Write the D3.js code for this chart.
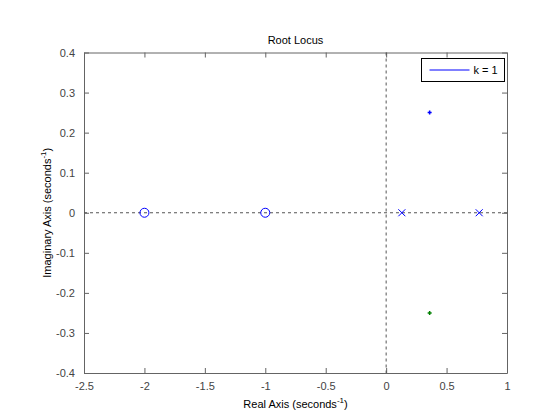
<!DOCTYPE html>
<html>
<head>
<meta charset="utf-8">
<script src="https://cdn.jsdelivr.net/npm/d3@7"></script>
<style>
  body { margin: 0; background: #fff; }
  svg text { font-family: "Liberation Sans", Arial, sans-serif; }
</style>
</head>
<body>
<div id="chart"></div>
<script>
'use strict';

// values
const xTicks = [-2.5, -2, -1.5, -1, -0.5, 0, 0.5, 1];
const yTicks = [-0.4, -0.3, -0.2, -0.1, 0, 0.1, 0.2, 0.3, 0.4];
const zerosRe = [-2, -1];
const polesRe = [0.13, 0.77];
const locusRe = [0.36, 0.36];
const locusIm = [0.25, -0.25];
const locusColors = ["#0000ff", "#008000"];

const W = 560, H = 420;
const margin = {top: 52.5, right: 53, bottom: 47, left: 84};
const width = W - margin.left - margin.right,
      height = H - margin.top - margin.bottom;

const svg = d3.select("#chart").append("svg")
    .attr("width", W)
    .attr("height", H);

const g = svg.append("g")
    .attr("transform", "translate(" + margin.left + "," + margin.top + ")");

const x = d3.scaleLinear().domain([-2.5, 1]).range([0, width]);
const y = d3.scaleLinear().domain([-0.4, 0.4]).range([height, 0]);

const axisColor = "#646464";
const fmt = d => String(d);

// axes with inward ticks, box style
function styleAxis(sel) {
  sel.select(".domain").attr("stroke", axisColor);
  sel.selectAll(".tick line").attr("stroke", axisColor);
  sel.selectAll(".tick text").attr("fill", "#444").style("font-size", "11px");
}

g.append("g")
  .attr("transform", "translate(0," + height + ")")
  .call(d3.axisBottom(x).tickValues(xTicks).tickFormat(fmt).tickSizeInner(-5).tickSizeOuter(0).tickPadding(9))
  .call(styleAxis);

g.append("g")
  .call(d3.axisTop(x).tickValues(xTicks).tickFormat("").tickSizeInner(-5).tickSizeOuter(0))
  .call(styleAxis);

g.append("g")
  .call(d3.axisLeft(y).tickValues(yTicks).tickFormat(fmt).tickSizeInner(-5).tickSizeOuter(0).tickPadding(9))
  .call(styleAxis);

g.append("g")
  .attr("transform", "translate(" + width + ",0)")
  .call(d3.axisRight(y).tickValues(yTicks).tickFormat("").tickSizeInner(-5).tickSizeOuter(0))
  .call(styleAxis);

// dashed zero lines
g.append("line")
  .attr("x1", 0).attr("x2", width)
  .attr("y1", y(0)).attr("y2", y(0))
  .attr("stroke", "#555").attr("stroke-dasharray", "3,3");
g.append("line")
  .attr("x1", x(0)).attr("x2", x(0))
  .attr("y1", 0).attr("y2", height)
  .attr("stroke", "#555").attr("stroke-dasharray", "3,3");

// zeros
g.selectAll(".zero")
  .data(zerosRe)
  .enter().append("circle")
  .attr("class", "zero")
  .attr("cx", d => x(d))
  .attr("cy", y(0))
  .attr("r", 4.5)
  .attr("fill", "none")
  .attr("stroke", "#0000ff")
  .attr("stroke-width", 1);

// poles
g.selectAll(".pole")
  .data(polesRe)
  .enter().append("path")
  .attr("class", "pole")
  .attr("d", d => {
    const cx = x(d), cy = y(0), s = 3.5;
    return "M" + (cx - s) + "," + (cy - s) + "L" + (cx + s) + "," + (cy + s) +
           "M" + (cx - s) + "," + (cy + s) + "L" + (cx + s) + "," + (cy - s);
  })
  .attr("stroke", "#0000ff")
  .attr("stroke-width", 1);

// closed loop points at k = 1
g.selectAll(".locus")
  .data(locusRe)
  .enter().append("path")
  .attr("class", "locus")
  .attr("d", (d, i) => {
    const cx = x(d), cy = y(locusIm[i]), s = 2;
    return "M" + (cx - s) + "," + cy + "L" + (cx + s) + "," + cy +
           "M" + cx + "," + (cy - s) + "L" + cx + "," + (cy + s);
  })
  .attr("stroke", (d, i) => locusColors[i])
  .attr("stroke-width", 1.5);

// title and labels
svg.append("text")
  .attr("x", margin.left + width / 2)
  .attr("y", 44)
  .attr("text-anchor", "middle")
  .style("font-size", "11px")
  .text("Root Locus");

const xl = svg.append("text")
  .attr("x", margin.left + width / 2)
  .attr("y", 408)
  .attr("text-anchor", "middle")
  .style("font-size", "11px");
xl.append("tspan").text("Real Axis (seconds");
xl.append("tspan").attr("dy", -5).style("font-size", "8px").text("-1");
xl.append("tspan").attr("dy", 5).text(")");

const yl = svg.append("text")
  .attr("transform", "translate(51," + (margin.top + height / 2) + ") rotate(-90)")
  .attr("text-anchor", "middle")
  .style("font-size", "11px");
yl.append("tspan").text("Imaginary Axis (seconds");
yl.append("tspan").attr("dy", -5).style("font-size", "8px").text("-1");
yl.append("tspan").attr("dy", 5).text(")");

// legend
const lg = svg.append("g").attr("transform", "translate(421.5,58.5)");
lg.append("rect")
  .attr("width", 83).attr("height", 23)
  .attr("fill", "#fff").attr("stroke", "#000");
lg.append("line")
  .attr("x1", 8).attr("x2", 48)
  .attr("y1", 11.5).attr("y2", 11.5)
  .attr("stroke", "#0000ff");
lg.append("text")
  .attr("x", 52).attr("y", 15.5)
  .style("font-size", "11px")
  .text("k = 1");
</script>
</body>
</html>
